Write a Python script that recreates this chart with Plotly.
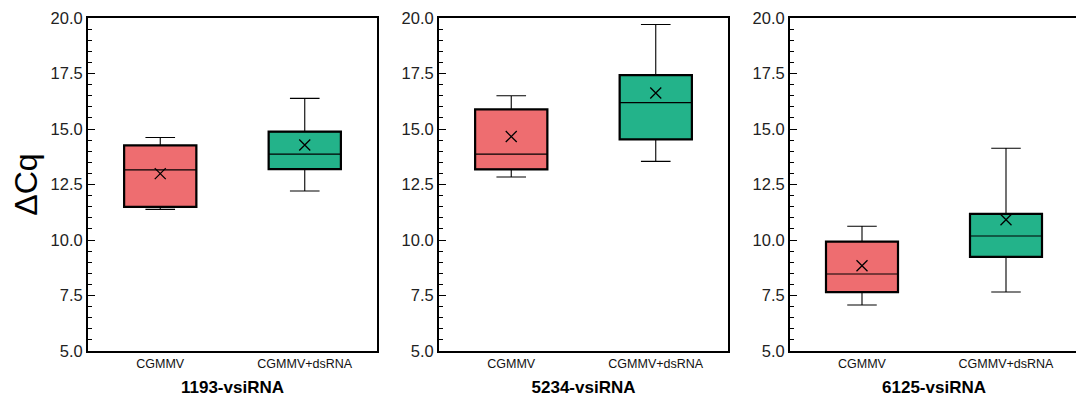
import plotly.graph_objects as go

panels = ["1193-vsiRNA", "5234-vsiRNA", "6125-vsiRNA"]
groups = ["CGMMV", "CGMMV+dsRNA"]

# per panel: [CGMMV, CGMMV+dsRNA]
lower = [[11.38, 12.21], [12.84, 13.54], [7.07, 7.66]]
q1 = [[11.49, 13.19], [13.18, 14.53], [7.65, 9.24]]
median = [[13.16, 13.87], [13.87, 16.19], [8.47, 10.18]]
q3 = [[14.26, 14.88], [15.88, 17.43], [9.93, 11.18]]
upper = [[14.62, 16.38], [16.50, 19.71], [10.62, 14.13]]
mean = [[12.99, 14.28], [14.66, 16.62], [8.84, 10.91]]

colors = ["#EE6D70", "#23B38A"]
y_ticks = [5.0, 7.5, 10.0, 12.5, 15.0, 17.5, 20.0]

# the page body has an 8px margin, so the figure is placed at (8, 8)
OFF = 8
W, H = 1084 - OFF, 397 - OFF
x_px = [(88 - OFF, 377 - OFF), (439 - OFF, 728 - OFF), (790 - OFF, 1078 - OFF)]
y_dom = [1 - (351 - OFF) / H, 1 - (18 - OFF) / H]

fig = go.Figure()
for i in range(3):
    xa = "x" if i == 0 else f"x{i+1}"
    ya = "y" if i == 0 else f"y{i+1}"
    fig.add_trace(go.Bar(
        x=groups, base=q1[i], y=[b - a for a, b in zip(q1[i], q3[i])],
        width=0.5, marker=dict(color=colors, line=dict(color="black", width=2.2)),
        xaxis=xa, yaxis=ya, showlegend=False, hoverinfo="skip"))
    fig.add_trace(go.Box(
        x=groups, q1=q1[i], median=median[i], q3=q3[i],
        lowerfence=lower[i], upperfence=upper[i],
        width=0.5, whiskerwidth=0.41, fillcolor="rgba(0,0,0,0)",
        line=dict(color="black", width=1.1), boxpoints=False,
        xaxis=xa, yaxis=ya, showlegend=False))
    fig.add_trace(go.Scatter(
        x=groups, y=mean[i], mode="markers",
        marker=dict(symbol="x-thin", size=11, line=dict(color="black", width=1.3)),
        xaxis=xa, yaxis=ya, showlegend=False))

layout = dict(
    width=W, height=H, margin=dict(l=0, r=0, t=0, b=0, autoexpand=False),
    plot_bgcolor="white", paper_bgcolor="white",
    font=dict(family="Liberation Sans, Arial", color="black"),
    barmode="overlay", boxmode="overlay",
)
for i in range(3):
    sx = "" if i == 0 else str(i + 1)
    a, b = x_px[i]
    layout["xaxis" + sx] = dict(
        domain=[a / W, b / W], type="category", range=[-0.5, 1.5],
        showline=True, mirror=True, linecolor="black", linewidth=2,
        ticks="", showgrid=False, zeroline=False, automargin=False,
        tickfont=dict(size=12.5, color="#111"),
        title=dict(text=f"<b>{panels[i]}</b>", font=dict(size=17), standoff=16),
        anchor="y" + sx,
    )
    layout["yaxis" + sx] = dict(
        domain=y_dom, range=[5, 20], tickvals=y_ticks, tickformat=".1f",
        showline=True, mirror=True, linecolor="black", linewidth=2,
        ticks="inside", ticklen=7, tickwidth=1, tickcolor="black",
        minor=dict(dtick=0.5, ticks="inside", ticklen=4, tickwidth=1, tickcolor="black", showgrid=False),
        showgrid=False, zeroline=False, automargin=False,
        ticklabeloverflow="allow",
        tickfont=dict(size=16.5, color="#222"),
        anchor="x" + sx,
    )
layout["yaxis"]["title"] = dict(text="ΔCq", font=dict(size=32), standoff=8)

fig.update_layout(**layout)
fig.write_html("out.html")
